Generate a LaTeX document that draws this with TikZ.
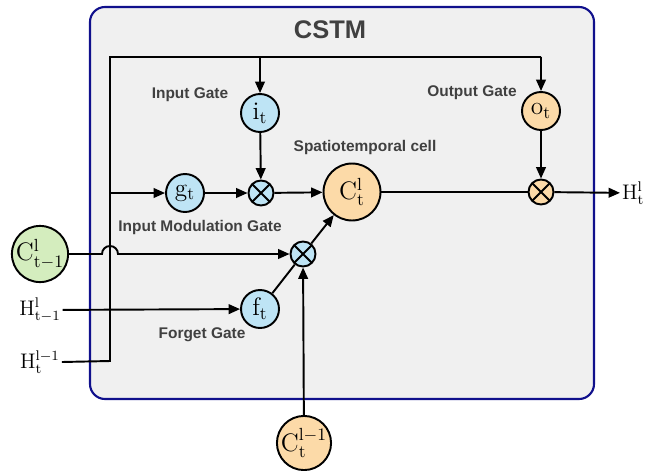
\documentclass[tikz,border=0pt]{standalone}
\usepackage{fontspec}
\setsansfont{Liberation Sans}
\usepackage{amsmath}
\usetikzlibrary{arrows.meta}
\definecolor{gblue}{RGB}{190,228,245}
\definecolor{gorange}{RGB}{252,218,168}
\definecolor{ggreen}{RGB}{212,237,190}
\definecolor{boxgray}{RGB}{240,240,240}
\definecolor{boxblue}{RGB}{16,16,140}
\definecolor{txtgray}{RGB}{64,64,64}

\begin{document}
\begin{tikzpicture}[x=0.02cm,y=-0.02cm]
\tikzset{bgate/.style = {circle, fill=gblue, draw=black, line width=1.1pt, minimum size=0.76cm, inner sep=0pt, font=\Large}}
\tikzset{ogate/.style = {circle, fill=gorange, draw=black, line width=1.1pt, minimum size=0.76cm, inner sep=0pt, font=\Large}}
\tikzset{cross/.style = {circle, draw=black, line width=1.1pt, minimum size=0.5cm, inner sep=0pt,
  path picture={\draw[line width=1.1pt] (path picture bounding box.south west) -- (path picture bounding box.north east)
  (path picture bounding box.north west) -- (path picture bounding box.south east);}}}
\tikzset{lbl/.style = {text=txtgray, font=\sffamily\bfseries\fontsize{8.8}{10}\selectfont}}
\tikzset{hlbl/.style = {inner sep=1pt, font=\large}}
\tikzset{arr/.style = {-{Triangle[length=6.5pt,width=5.5pt]}, line width=1.1pt}}
\tikzset{wire/.style = {line width=1.1pt}}

\useasboundingbox (0,0) rectangle (658,470);

% cell box
\draw[draw=boxblue, line width=1.2pt, fill=boxgray, rounded corners=0.3cm] (90,7) rectangle (594,399);
\node[text=txtgray, font=\sffamily\bfseries\fontsize{14.5}{16}\selectfont] (title) at (330,30) {CSTM};

% gates
\node[bgate] (it) at (260,113) {$\mathrm{i_t}$};
\node[bgate] (gt) at (185,193) {$\mathrm{g_t}$};
\node[bgate] (ft) at (260,309) {$\mathrm{f_t}$};
\node[ogate] (ot) at (541,111) {$\mathrm{o_t}$};
\node[ogate, minimum size=1.14cm] (ct) at (352,192) {$\mathrm{C^l_t}$};
\node[circle, fill=ggreen, draw=black, line width=1.1pt, minimum size=1.04cm, inner sep=0pt, font=\Large] (cprev) at (40,254) {$\mathrm{C^l_{t-1}}$};
\node[ogate, minimum size=1.04cm] (cup) at (304,443) {$\mathrm{C^{l-1}_t}$};

\node[cross, fill=gblue] (m1) at (261,193) {};
\node[cross, fill=gorange] (m2) at (541,192) {};
\node[cross, fill=gblue] (m3) at (303,254) {};

% inputs / output
\node[hlbl] (hprev) at (40,310) {$\mathrm{H^l_{t-1}}$};
\node[hlbl] (hlow) at (40,362) {$\mathrm{H^{l-1}_t}$};
\node[hlbl, anchor=west] (hout) at (620,193) {$\mathrm{H^l_t}$};

% labels
\node[lbl] (lin) at (190,95) {Input Gate};
\node[lbl] (lout) at (472,93) {Output Gate};
\node[lbl] (lcell) at (365,147) {Spatiotemporal cell};
\node[lbl] (lmod) at (200,227) {Input Modulation Gate};
\node[lbl] (lfor) at (202,335) {Forget Gate};

\coordinate (bl) at (110,361);
\coordinate (tl) at (110,57);
\coordinate (tr) at (541,57);
\coordinate (itop) at (260,57);
\coordinate (gin) at (110,193);
\coordinate (hopa) at (102,254);

\draw[wire] (hlow.east) -- (bl) -- (tl) -- (tr);
\draw[arr] (tr) -- (ot);
\draw[arr] (itop) -- (it);
\draw[arr] (gin) -- (gt);
\draw[arr] (gt) -- (m1);
\draw[arr] (it) -- (m1);
\draw[arr] (m1) -- (ct);
\draw[wire] (ct) -- (m2);
\draw[arr] (ot) -- (m2);
\draw[arr] (m2) -- (hout);

\draw[arr] (cprev.east) -- (hopa) arc[start angle=180, end angle=0, radius=0.16cm] -- (m3);
\draw[arr] (hprev) -- (ft);
\draw[wire] (ft) -- (m3);
\draw[arr] (m3) -- (ct);
\draw[arr] (cup) -- (m3);
\end{tikzpicture}
\end{document}
